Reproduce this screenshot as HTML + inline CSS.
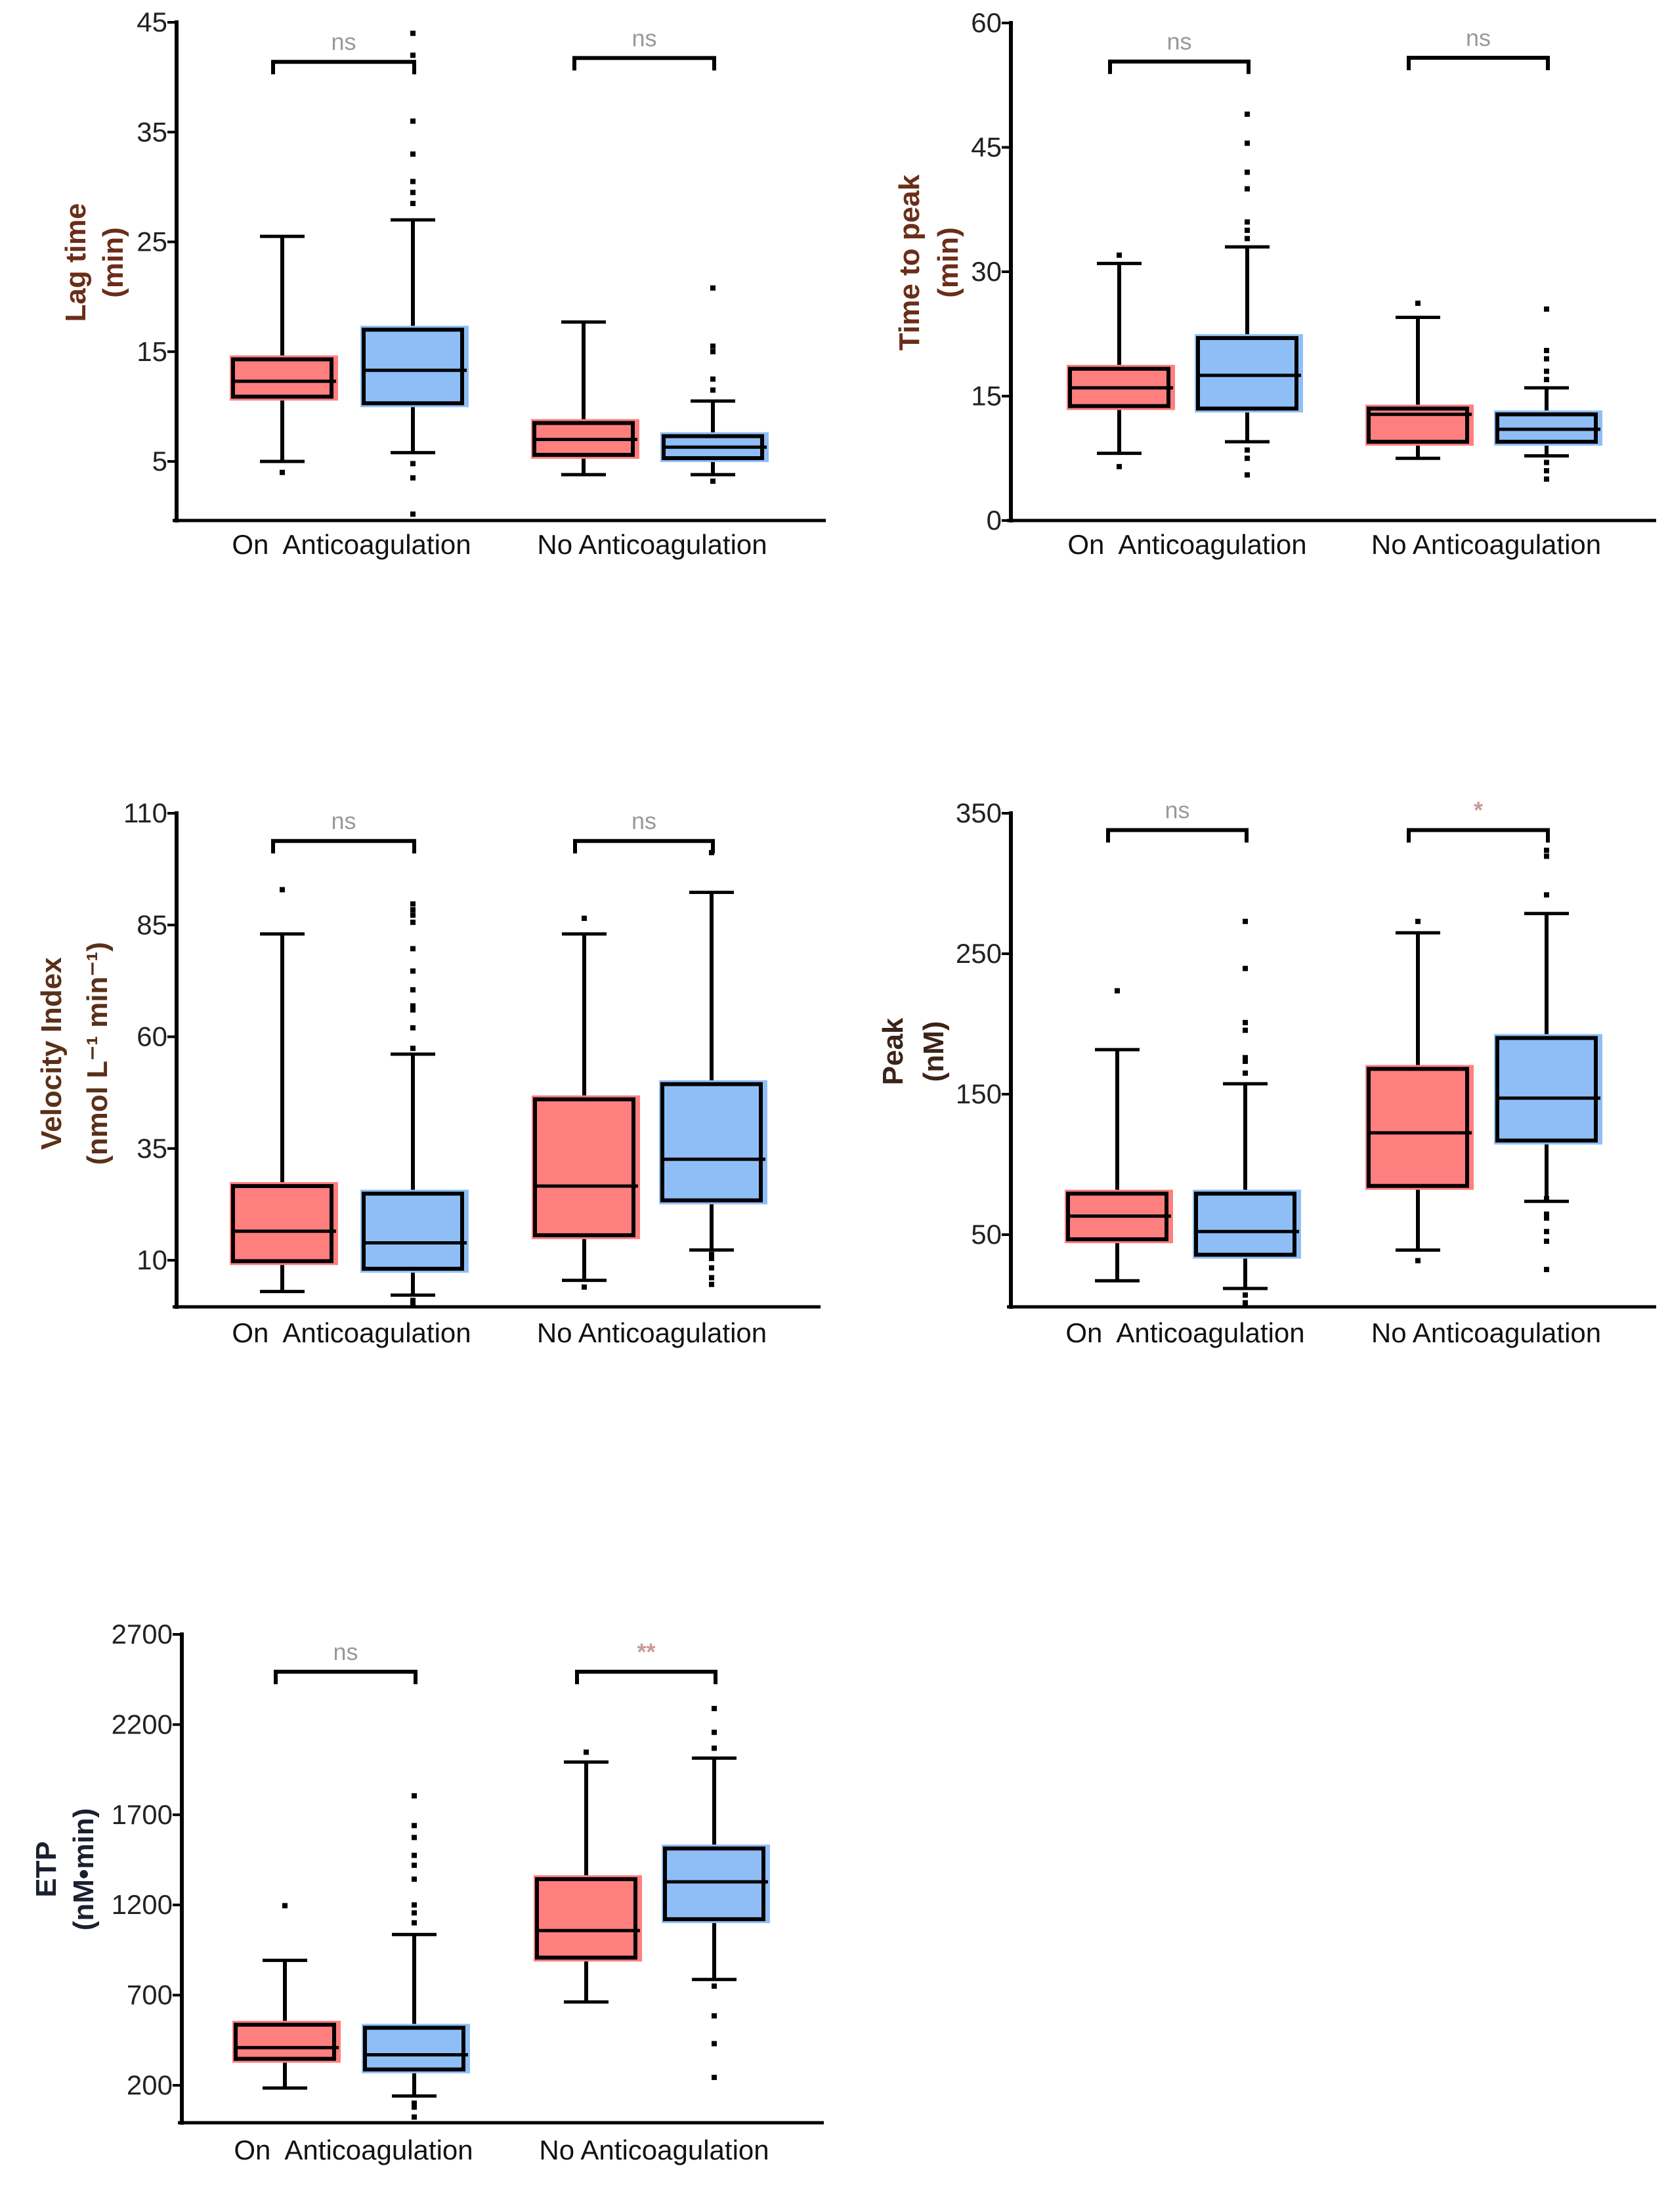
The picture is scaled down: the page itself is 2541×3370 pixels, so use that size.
<!DOCTYPE html>
<html><head><meta charset="utf-8">
<style>
html,body{margin:0;padding:0;background:#fff;overflow:hidden;}
svg{display:block;}
text{font-family:"Liberation Sans",Arial,sans-serif;}
</style></head>
<body>
<svg id="fig" width="2541" height="3370" viewBox="0 0 2541 3370" xmlns="http://www.w3.org/2000/svg"></svg>
<script>
// ---- data: Lag time ----
const categories = ["On\u00A0 Anticoagulation", "No Anticoagulation"];
const lagLow  = [5.0, 5.8, 3.8, 3.8];
const lagQ1   = [10.9, 10.3, 5.6, 5.3];
const lagMed  = [12.3, 13.3, 7.0, 6.3];
const lagQ3   = [14.3, 17.0, 8.5, 7.3];
const lagHigh = [25.5, 27.0, 17.7, 10.5];
const lagOut  = [[4.0], [44, 42, 36, 33, 30.5, 29.5, 28.5, 4.8, 3.5, 0.2], [], [20.8, 15.5, 15, 12.5, 11.5, 3.2]];
const lagTicks = [5, 15, 25, 35, 45];
const lagSig = ["ns", "ns"];
// ---- data: Time to peak ----
const ttpLow  = [8.1, 9.5, 7.5, 7.8];
const ttpQ1   = [13.8, 13.5, 9.5, 9.5];
const ttpMed  = [16.0, 17.5, 12.8, 11.0];
const ttpQ3   = [18.3, 22.0, 13.5, 12.8];
const ttpHigh = [31.0, 33.0, 24.5, 16.0];
const ttpOut  = [[32, 6.5], [49, 45.5, 42, 40, 36, 35, 34, 8.5, 7.5, 5.5], [26.2], [25.5, 20.5, 19.5, 18, 17, 7, 6, 5]];
const ttpTicks = [0, 15, 30, 45, 60];
const ttpSig = ["ns", "ns"];
// ---- data: Velocity index ----
const viLow  = [3.0, 2.2, 5.5, 12.3];
const viQ1   = [9.8, 8.1, 15.6, 23.4];
const viMed  = [16.5, 13.9, 26.6, 32.6];
const viQ3   = [26.6, 24.9, 46.0, 49.4];
const viHigh = [83.0, 56.1, 83.0, 92.3];
const viOut  = [[92.9], [89.7, 88.4, 87.2, 85.6, 79.7, 74.7, 70.5, 66.9, 66, 62, 57.4, 1, 0.5], [86.5, 4], [101.2, 11.3, 10.4, 8.3, 6.1, 4.6]];
const viTicks = [10, 35, 60, 85, 110];
const viSig = ["ns", "ns"];
// ---- data: Peak ----
const pkLow  = [17.2, 11.7, 39.0, 73.7];
const pkQ1   = [46.7, 35.7, 84.7, 117.0];
const pkMed  = [63.2, 52.2, 122.5, 147.2];
const pkQ3   = [79.2, 79.2, 168.0, 190.0];
const pkHigh = [181.7, 157.4, 264.9, 278.6];
const pkOut  = [[223.6], [273, 239.5, 201, 195.5, 176, 173.4, 165, 7, 1.5], [273, 31.5], [323.6, 319.4, 291.9, 75.6, 64.6, 61.8, 52.2, 45.3, 25.2]];
const pkTicks = [50, 150, 250, 350];
const pkSig = ["ns", "*"];
// ---- data: ETP ----
const etpLow  = [185, 141, 662, 787];
const etpQ1   = [347, 288, 908, 1121];
const etpMed  = [409, 369, 1058, 1328];
const etpQ3   = [536, 519, 1343, 1513];
const etpHigh = [893, 1036, 1992, 2014];
const etpOut  = [[1196], [1805, 1640, 1574, 1475, 1420, 1343, 1200, 1156, 1101, 101, 79, 24], [2047], [2289, 2157, 2069, 750, 585, 431, 244]];
const etpTicks = [200, 700, 1200, 1700, 2200, 2700];
const etpSig = ["ns", "**"];

const NS = "http://www.w3.org/2000/svg";
const svg = document.getElementById('fig');
function mk(tag, attrs, parent){
  const e = document.createElementNS(NS, tag);
  for (const k in attrs) e.setAttribute(k, attrs[k]);
  (parent || svg).appendChild(e);
  return e;
}

const panels = [
  {key:'lag', low:lagLow,q1:lagQ1,med:lagMed,q3:lagQ3,high:lagHigh,out:lagOut,ticks:lagTicks,sig:lagSig,
   v0:5,p0:703,v1:45,p1:34, axX:269, axTop:34, axBot:793, xEnd:1258, centers:[430,629,889,1086],
   brk:[41.4,41.75], labY:844, t1:"Lag time", t2:"(min)", tx1:115, tx2:172, ty:400, tcol:"#6b2d18"},
  {key:'ttp', low:ttpLow,q1:ttpQ1,med:ttpMed,q3:ttpQ3,high:ttpHigh,out:ttpOut,ticks:ttpTicks,sig:ttpSig,
   v0:0,p0:793,v1:60,p1:35, axX:1540, axTop:35, axBot:793, xEnd:2523, centers:[1705,1900,2160,2356],
   brk:[55.35,55.8], labY:844, t1:"Time to peak", t2:"(min)", tx1:1385, tx2:1444, ty:400, tcol:"#6b2d18"},
  {key:'vi', low:viLow,q1:viQ1,med:viMed,q3:viQ3,high:viHigh,out:viOut,ticks:viTicks,sig:viSig,
   v0:10,p0:1920,v1:110,p1:1239, axX:269, axTop:1239, axBot:1991, xEnd:1250, centers:[430,629,890,1084],
   brk:[103.8,103.8], labY:2045, t1:"Velocity Index", t2:"(nmol L\u207B\u00B9 min\u207B\u00B9)", tx1:78, tx2:148, ty:1605, tcol:"#5a3018"},
  {key:'pk', low:pkLow,q1:pkQ1,med:pkMed,q3:pkQ3,high:pkHigh,out:pkOut,ticks:pkTicks,sig:pkSig,
   v0:50,p0:1881,v1:350,p1:1239, axX:1540, axTop:1239, axBot:1991, xEnd:2523, centers:[1702,1897,2160,2356],
   brk:[338,338], labY:2045, t1:"Peak", t2:"(nM)", tx1:1360, tx2:1422, ty:1602, tcol:"#3a2418"},
  {key:'etp', low:etpLow,q1:etpQ1,med:etpMed,q3:etpQ3,high:etpHigh,out:etpOut,ticks:etpTicks,sig:etpSig,
   v0:200,p0:3177,v1:2700,p1:2490, axX:277, axTop:2490, axBot:3234, xEnd:1255, centers:[434,631,893,1088],
   brk:[2493,2493], labY:3290, t1:"ETP", t2:"(nM\u2022min)", tx1:70, tx2:127, ty:2848, tcol:"#1a2030"}
];
const fills = ["#ff7f7f", "#8fbef7", "#ff7f7f", "#8fbef7"];
const BW = 156, CAP = 68;

panels.forEach(P => {
  const y = v => P.p0 + (v - P.v0) * (P.p1 - P.p0) / (P.v1 - P.v0);
  const g = mk('g', {});
  
  

  for (let i = 0; i < 4; i++) {
    const c = P.centers[i];
    const bg = mk('g', {}, g);
    
    
    const yq3 = y(P.q3[i]), yq1 = y(P.q1[i]);
    mk('line', {x1:c, x2:c, y1:y(P.high[i]), y2:yq3, stroke:'#000','stroke-width':6}, bg);
    mk('line', {x1:c, x2:c, y1:yq1, y2:y(P.low[i]), stroke:'#000','stroke-width':6}, bg);
    mk('line', {x1:c-CAP/2, x2:c+CAP/2, y1:y(P.high[i]), y2:y(P.high[i]), stroke:'#000','stroke-width':5}, bg);
    mk('line', {x1:c-CAP/2, x2:c+CAP/2, y1:y(P.low[i]), y2:y(P.low[i]), stroke:'#000','stroke-width':5}, bg);
    mk('rect', {x:c-BW/2-2, y:yq3-6, width:BW+9, height:(yq1-yq3)+12, fill:fills[i]}, bg);
    mk('rect', {x:c-BW/2+3, y:yq3, width:BW-6, height:yq1-yq3, fill:'none', stroke:'#000','stroke-width':6}, bg);
    mk('line', {x1:c-BW/2, x2:c+BW/2+4, y1:y(P.med[i]), y2:y(P.med[i]), stroke:'#000','stroke-width':5}, bg);
    P.out[i].forEach(v => {
      const o = mk('rect', {x:c-4, y:y(v)-4, width:8, height:8, fill:'#000'}, bg);
      
      
    });
  }

  const ya = mk('line', {x1:P.axX, x2:P.axX, y1:P.axTop-3, y2:P.axBot+3, stroke:'#000','stroke-width':6}, g);
  
  
  const xa = mk('line', {x1:P.axX-6, x2:P.xEnd, y1:P.axBot, y2:P.axBot, stroke:'#000','stroke-width':5}, g);
  
  
  P.ticks.forEach(t => {
    const ty = y(t);
    mk('line', {x1:P.axX-14, x2:P.axX, y1:ty, y2:ty, stroke:'#000','stroke-width':4}, g);
    const tl = mk('text', {x:P.axX-14, y:ty+14, 'text-anchor':'end','font-size':42, fill:'#222'}, g);
    tl.textContent = t;
    
    
  });

  [0, 1].forEach(k => {
    const cx = (P.centers[2*k] + P.centers[2*k+1]) / 2 + 6;
    const lb = mk('text', {x:cx, y:P.labY, 'text-anchor':'middle','font-size':42, fill:'#111'}, g);
    lb.textContent = categories[k];
    
    
  });

  [0, 1].forEach(k => {
    const by = y(P.brk[k]);
    const xa1 = P.centers[2*k] - 14, xa2 = P.centers[2*k+1] + 2;
    const br = mk('path', {d:`M${xa1},${by+19} V${by} H${xa2} V${by+19}`, fill:'none', stroke:'#000','stroke-width':6}, g);
    
    
    const st = mk('text', {x:(xa1+xa2)/2, y:by-18, 'text-anchor':'middle','font-size':36, fill: P.sig[k]==='ns' ? '#999' : '#c99', 'font-weight': P.sig[k]==='ns'?'normal':'bold'}, g);
    st.textContent = P.sig[k];
    
    
  });

  const t1 = mk('text', {x:0, y:0, transform:`translate(${P.tx1 + 15},${P.ty}) rotate(-90)`, 'text-anchor':'middle','font-size':44,'font-weight':'bold', fill:P.tcol}, g);
  t1.textContent = P.t1;
  
  
  const t2 = mk('text', {x:0, y:0, transform:`translate(${P.tx2 + 15},${P.ty}) rotate(-90)`, 'text-anchor':'middle','font-size':44,'font-weight':'bold', fill:P.tcol}, g);
  t2.textContent = P.t2;
  
  
});
</script>
</body></html>
